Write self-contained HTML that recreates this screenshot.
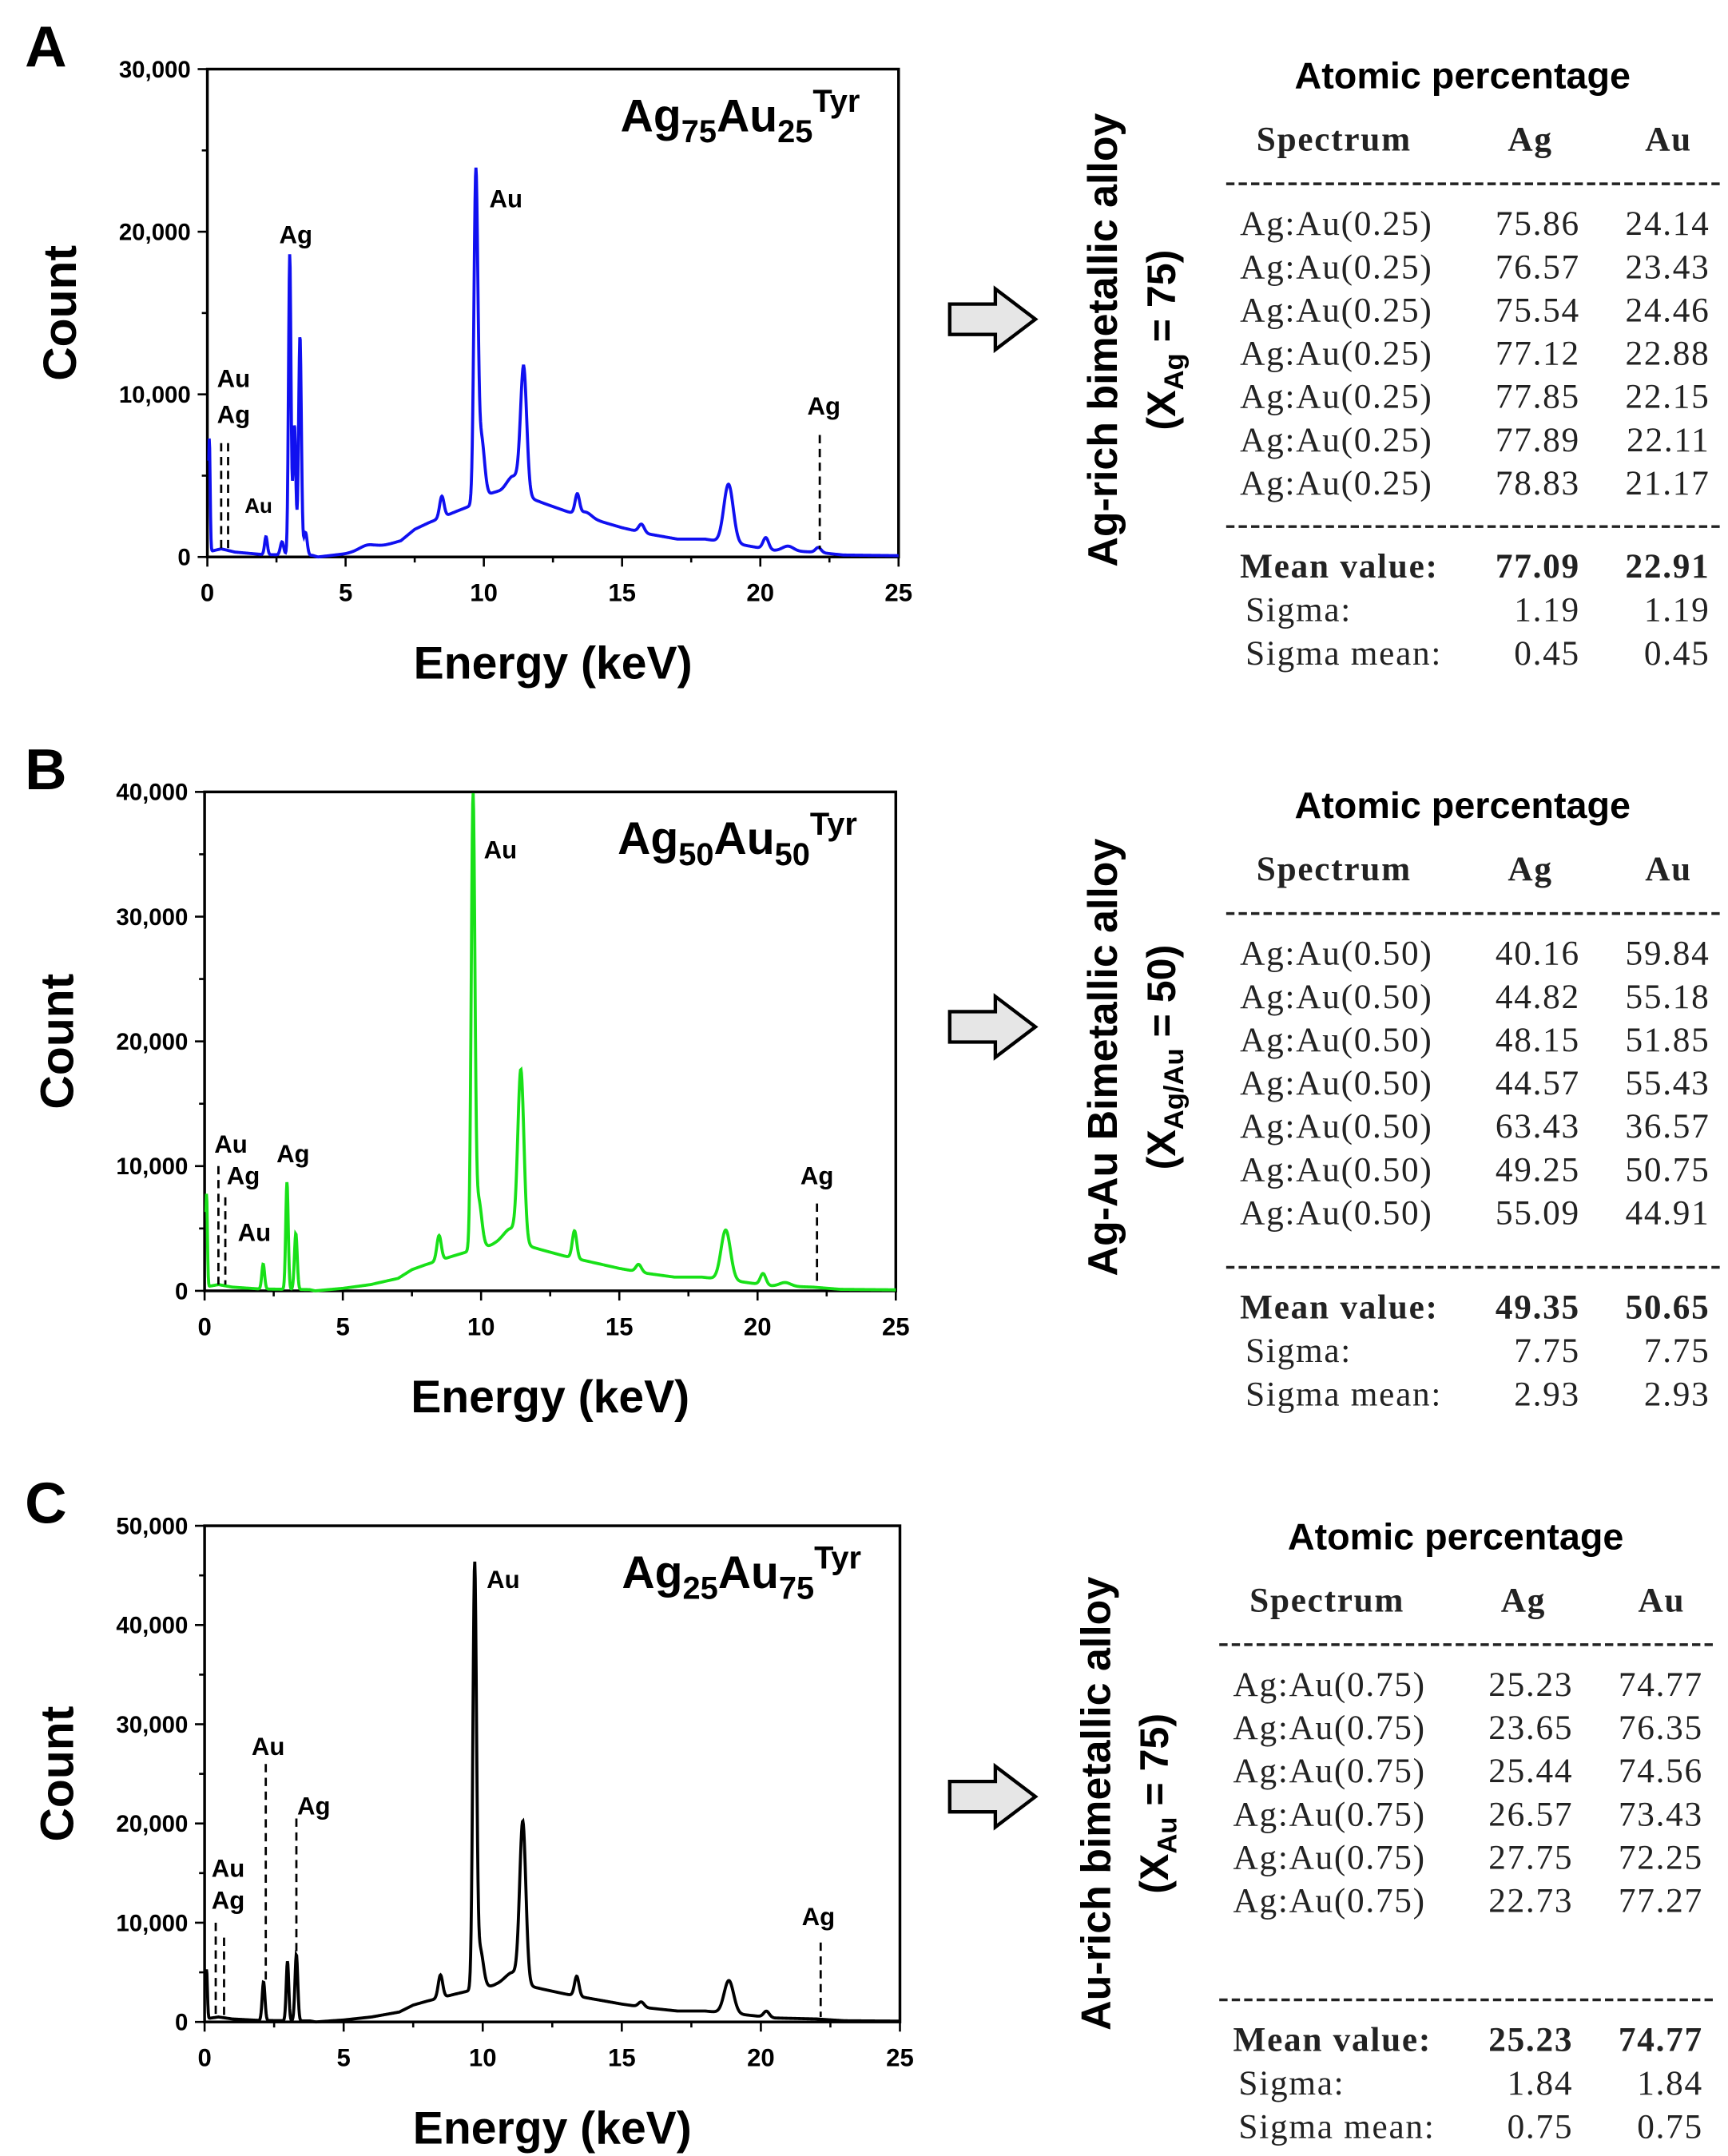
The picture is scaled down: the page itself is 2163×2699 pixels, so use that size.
<!DOCTYPE html>
<html><head><meta charset="utf-8"><style>
html,body{margin:0;padding:0;background:#fff}
svg{display:block}
.ax{font-family:"Liberation Sans",Arial,sans-serif;font-weight:bold}
.tb{font-family:"Liberation Serif","DejaVu Serif",serif;fill:#222;letter-spacing:1px}
</style></head><body>
<svg id="s" width="2163" height="2699" viewBox="0 0 1250 1560" preserveAspectRatio="none" xmlns="http://www.w3.org/2000/svg">
<g id="g"></g>
</svg>
<script>
const NS="http://www.w3.org/2000/svg";
const G=document.getElementById('g');
function el(t,a,txt){const e=document.createElementNS(NS,t);for(const k in a)e.setAttribute(k,a[k]);if(txt!==undefined)e.innerHTML=txt;G.appendChild(e);return e;}
function bg(E){
 const pts=[[0,300],[0.5,500],[1,300],[2,150],[3.8,100],[4,0],[5,200],[6,500],[7,1000],[7.5,1700],[8,2100],[9,2800],[9.6,3200],[10.5,3700],[11,3800],[12,3400],[13,2800],[14,2300],[15,1800],[16,1400],[17,1100],[18,1100],[19.5,700],[20.5,400],[22,300],[23,120],[25,80]];
 for(let i=0;i<pts.length-1;i++){if(E>=pts[i][0]&&E<=pts[i+1][0]){const t=(E-pts[i][0])/(pts[i+1][0]-pts[i][0]);return pts[i][1]+t*(pts[i+1][1]-pts[i][1]);}}
 return 80;}
function panel(o){
 const {x0,x1,yt,yb,ymax,step,color,peaks,lbl,title,ann}=o;
 const sy=v=>yb-v/ymax*(yb-yt), sx=e=>x0+e/25*(x1-x0);
 el('rect',{x:x0,y:yt,width:x1-x0,height:yb-yt,fill:'none',stroke:'#000','stroke-width':2});
 for(let v=0;v<=ymax;v+=step/2){const y=sy(v);el('line',{x1:x0-(v%step==0?7:4),x2:x0,y1:y,y2:y,stroke:'#000','stroke-width':1.5});
  if(v%step==0)el('text',{x:x0-12,y:y+6,'text-anchor':'end','font-size':17,class:'ax'},v==0?'0':(v/1000)+',000');}
 for(let e=0;e<=25;e+=2.5){const x=sx(e);el('line',{x1:x,x2:x,y1:yb,y2:yb+(e%5==0?7:4),stroke:'#000','stroke-width':1.5});
  if(e%5==0)el('text',{x:x,y:yb+32,'text-anchor':'middle','font-size':18,class:'ax'},e);}
 let d="";const n=1500;
 for(let i=0;i<=n;i++){const E=0.05+i*(24.95/n);let c=bg(E);
  for(const p of peaks){c+=p[1]*Math.exp(-Math.pow((E-p[0])/p[2],2)/2);}
  d+=(i?"L":"M")+sx(E).toFixed(2)+","+sy(Math.min(c,ymax)).toFixed(2);}
 el('path',{d:d,fill:'none',stroke:color,'stroke-width':2.2});
 el('text',{x:x1-28,y:yt+45,'text-anchor':'end','font-size':33,class:'ax'},title);
 el('text',{x:0,y:0,'font-size':34,class:'ax','text-anchor':'middle',transform:`translate(${x0-95},${(yt+yb)/2}) rotate(-90)`},'Count');
 el('text',{x:(x0+x1)/2,y:yb+88,'text-anchor':'middle','font-size':33,class:'ax'},'Energy (keV)');
 el('text',{x:18,y:yt-2,'font-size':42,class:'ax'},lbl);
 for(const a of ann){ if(a.line)el('line',{x1:sx(a.e),x2:sx(a.e),y1:sy(a.ya),y2:sy(a.yb),stroke:'#000','stroke-width':1.6,'stroke-dasharray':'6,4'});
  if(a.t)el('text',{x:a.x,y:a.y,'font-size':a.fs||18,class:'ax','font-weight':a.nb?'normal':'bold'},a.t);}
}
function table(o){
 const {cx,ty,rows,mean,sig,sm,rot,rotSub,rotY}=o;
 el('text',{x:cx,y:ty,'text-anchor':'middle','font-size':27,class:'ax'},'Atomic percentage');
 const L=cx-161,A=cx+49,U=cx+149;
 el('text',{x:L+68,y:ty+45,'text-anchor':'middle','font-size':25,class:'tb','font-weight':'bold'},'Spectrum');
 el('text',{x:A,y:ty+45,'text-anchor':'middle','font-size':25,class:'tb','font-weight':'bold'},'Ag');
 el('text',{x:U,y:ty+45,'text-anchor':'middle','font-size':25,class:'tb','font-weight':'bold'},'Au');
 el('line',{x1:L-10,x2:U+38,y1:ty+69,y2:ty+69,stroke:'#222','stroke-width':2,'stroke-dasharray':'6,3'});
 rows.forEach((r,i)=>{const y=ty+106+i*31.3;
  el('text',{x:L,y:y,'font-size':25,class:'tb'},r[0]);
  el('text',{x:A+36,y:y,'text-anchor':'end','font-size':25,class:'tb'},r[1]);
  el('text',{x:U+30,y:y,'text-anchor':'end','font-size':25,class:'tb'},r[2]);});
 const yl=o.lineY;
 el('line',{x1:L-10,x2:U+38,y1:yl,y2:yl,stroke:'#222','stroke-width':2,'stroke-dasharray':'6,3'});
 const m=[['Mean value:',mean,true],['Sigma:',sig,false],['Sigma mean:',sm,false]];
 m.forEach((r,i)=>{const y=yl+37+i*31.5;
  el('text',{x:L+(i?4:0),y:y,'font-size':25,class:'tb','font-weight':r[2]?'bold':'normal'},r[0]);
  el('text',{x:A+36,y:y,'text-anchor':'end','font-size':25,class:'tb','font-weight':r[2]?'bold':'normal'},r[1][0]);
  el('text',{x:U+30,y:y,'text-anchor':'end','font-size':25,class:'tb','font-weight':r[2]?'bold':'normal'},r[1][1]);});
 el('text',{x:0,y:0,'font-size':30,class:'ax','text-anchor':'middle',transform:`translate(${o.rx},${rotY}) rotate(-90)`},rot);
 el('text',{x:0,y:0,'font-size':29,class:'ax','font-weight':'normal','text-anchor':'middle',transform:`translate(${o.rx+42},${rotY}) rotate(-90)`},rotSub);
 const ax=687,ay=o.ay;
 el('path',{d:`M${ax},${ay-11}L${ax+33},${ay-11}L${ax+33},${ay-22}L${ax+62},${ay}L${ax+33},${ay+22}L${ax+33},${ay+11}L${ax},${ay+11}Z`,fill:'#e6e6e6',stroke:'#000','stroke-width':2.5});
}
panel({x0:150,x1:650,yt:50,yb:403,ymax:30000,step:10000,color:'#1010f0',lbl:'A',
 title:'Ag<tspan font-size="23" dy="8">75</tspan><tspan dy="-8">Au</tspan><tspan font-size="23" dy="8">25</tspan><tspan font-size="23" dy="-22">Tyr</tspan>',
 peaks:[[0.07,7000,0.03],[2.12,1100,0.05],[2.7,800,0.06],[2.98,18500,0.045],[3.15,8000,0.05],[3.35,13500,0.05],[3.55,1400,0.06],[5.8,300,0.3],[8.48,1300,0.08],[9.71,19500,0.07],[9.9,4000,0.12],[10.3,300,0.2],[11.44,7500,0.11],[11.1,1200,0.3],[13.38,1200,0.08],[13.7,300,0.2],[15.7,500,0.1],[18.85,3600,0.17],[20.2,700,0.1],[21,300,0.2],[22.1,300,0.1]],
 ann:[{e:0.5,line:1,ya:7000,yb:300},{e:0.75,line:1,ya:7000,yb:300},{t:'Au',x:157,y:280},{t:'Ag',x:157,y:306},{t:'Au',x:177,y:371,fs:15,nb:1},{t:'Ag',x:202,y:176},{t:'Au',x:354,y:150},{e:22.15,line:1,ya:7500,yb:500},{t:'Ag',x:584,y:300}]});
panel({x0:148,x1:648,yt:573,yb:934,ymax:40000,step:10000,color:'#18e018',lbl:'B',
 title:'Ag<tspan font-size="23" dy="8">50</tspan><tspan dy="-8">Au</tspan><tspan font-size="23" dy="8">50</tspan><tspan font-size="23" dy="-22">Tyr</tspan>',
 peaks:[[0.07,7500,0.03],[2.12,2000,0.05],[2.98,8600,0.045],[3.3,4500,0.05],[8.48,2000,0.08],[9.71,35500,0.065],[9.9,4000,0.12],[11.44,13500,0.11],[11.1,1200,0.3],[13.38,2200,0.08],[15.7,600,0.1],[18.85,4000,0.17],[20.2,900,0.1],[21,300,0.2]],
 ann:[{e:0.5,line:1,ya:10000,yb:500},{e:0.75,line:1,ya:7500,yb:500},{t:'Au',x:155,y:834},{t:'Ag',x:164,y:857},{t:'Au',x:172,y:898},{t:'Ag',x:200,y:841},{t:'Au',x:350,y:621},{e:22.15,line:1,ya:7000,yb:500},{t:'Ag',x:579,y:857}]});
panel({x0:148,x1:651,yt:1104,yb:1463,ymax:50000,step:10000,color:'#000',lbl:'C',
 title:'Ag<tspan font-size="23" dy="8">25</tspan><tspan dy="-8">Au</tspan><tspan font-size="23" dy="8">75</tspan><tspan font-size="23" dy="-22">Tyr</tspan>',
 peaks:[[0.07,5000,0.03],[2.12,3900,0.05],[2.98,6000,0.045],[3.3,6700,0.05],[8.48,2300,0.08],[9.71,42000,0.065],[9.9,4000,0.12],[11.44,16000,0.11],[11.1,1200,0.3],[13.38,2000,0.08],[15.7,500,0.1],[18.85,3300,0.17],[20.2,600,0.1]],
 ann:[{e:0.4,line:1,ya:10000,yb:500},{e:0.7,line:1,ya:8500,yb:500},{t:'Au',x:153,y:1358},{t:'Ag',x:153,y:1381},{e:2.2,line:1,ya:26000,yb:4000},{t:'Au',x:182,y:1270},{e:3.3,line:1,ya:20500,yb:7000},{t:'Ag',x:215,y:1313},{t:'Au',x:352,y:1149},{e:22.15,line:1,ya:8000,yb:500},{t:'Ag',x:580,y:1393}]});
table({cx:1058,ty:64,rx:808,rotY:246,ay:231,lineY:381,
 rot:'Ag-rich bimetallic alloy',rotSub:'(X<tspan font-size="20" dy="6">Ag</tspan><tspan dy="-6"> = 75)</tspan>',
 rows:[['Ag:Au(0.25)','75.86','24.14'],['Ag:Au(0.25)','76.57','23.43'],['Ag:Au(0.25)','75.54','24.46'],['Ag:Au(0.25)','77.12','22.88'],['Ag:Au(0.25)','77.85','22.15'],['Ag:Au(0.25)','77.89','22.11'],['Ag:Au(0.25)','78.83','21.17']],
 mean:['77.09','22.91'],sig:['1.19','1.19'],sm:['0.45','0.45']});
table({cx:1058,ty:592,rx:808,rotY:765,ay:743,lineY:917,
 rot:'Ag-Au Bimetallic alloy',rotSub:'(X<tspan font-size="20" dy="6">Ag/Au</tspan><tspan dy="-6"> = 50)</tspan>',
 rows:[['Ag:Au(0.50)','40.16','59.84'],['Ag:Au(0.50)','44.82','55.18'],['Ag:Au(0.50)','48.15','51.85'],['Ag:Au(0.50)','44.57','55.43'],['Ag:Au(0.50)','63.43','36.57'],['Ag:Au(0.50)','49.25','50.75'],['Ag:Au(0.50)','55.09','44.91']],
 mean:['49.35','50.65'],sig:['7.75','7.75'],sm:['2.93','2.93']});
table({cx:1053,ty:1121,rx:803,rotY:1305,ay:1300,lineY:1447,
 rot:'Au-rich bimetallic alloy',rotSub:'(X<tspan font-size="20" dy="6">Au</tspan><tspan dy="-6"> = 75)</tspan>',
 rows:[['Ag:Au(0.75)','25.23','74.77'],['Ag:Au(0.75)','23.65','76.35'],['Ag:Au(0.75)','25.44','74.56'],['Ag:Au(0.75)','26.57','73.43'],['Ag:Au(0.75)','27.75','72.25'],['Ag:Au(0.75)','22.73','77.27']],
 mean:['25.23','74.77'],sig:['1.84','1.84'],sm:['0.75','0.75']});
</script>
</body></html>
